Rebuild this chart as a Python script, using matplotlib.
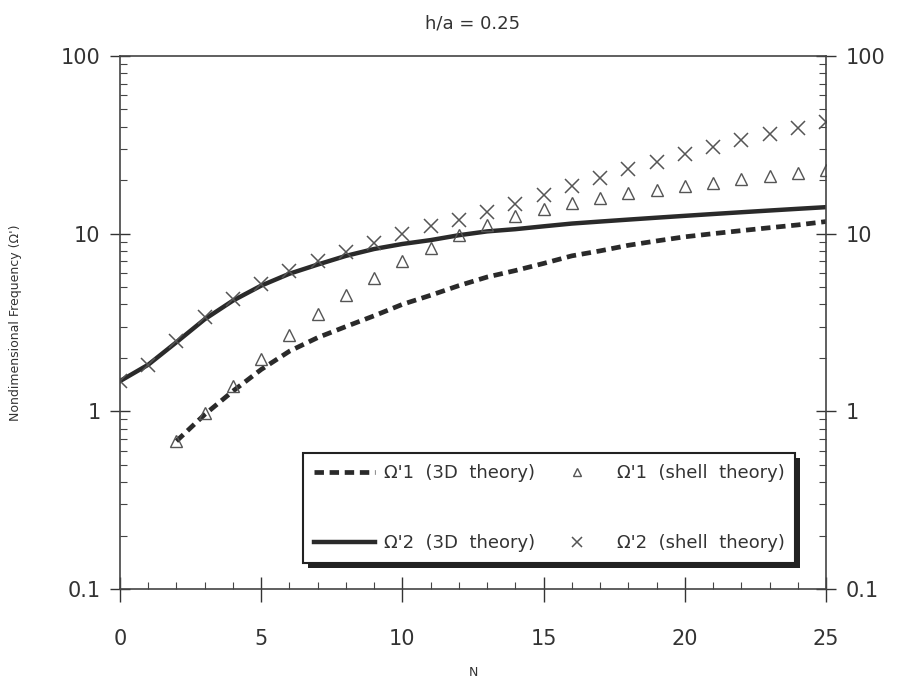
import matplotlib
matplotlib.use("Agg")
import matplotlib.pyplot as plt
import numpy as np
from matplotlib.patches import Rectangle
from matplotlib.ticker import FixedLocator, FixedFormatter, LogLocator, NullFormatter, MultipleLocator

# values
n_3d2 = list(range(0, 26))
omega2_3d = [1.48, 1.83, 2.45, 3.3, 4.2, 5.1, 5.95, 6.7, 7.5, 8.2, 8.75, 9.2, 9.8,
             10.3, 10.6, 11.0, 11.4, 11.7, 12.0, 12.3, 12.6, 12.9, 13.2, 13.5, 13.8, 14.1]
n_3d1 = list(range(2, 26))
omega1_3d = [0.68, 0.96, 1.3, 1.72, 2.18, 2.6, 3.0, 3.45, 4.0, 4.5, 5.1, 5.7, 6.2,
             6.8, 7.5, 8.0, 8.6, 9.1, 9.6, 10.0, 10.4, 10.8, 11.2, 11.7]
n_sh2 = list(range(0, 26))
omega2_shell = [1.48, 1.82, 2.5, 3.4, 4.3, 5.2, 6.2, 7.0, 7.9, 8.9, 9.9, 11.0, 12.0,
                13.3, 14.7, 16.6, 18.5, 20.6, 23.0, 25.3, 28.2, 30.9, 33.6, 36.5, 39.5, 42.5]
n_sh1 = list(range(2, 26))
omega1_shell = [0.68, 0.98, 1.38, 1.96, 2.68, 3.52, 4.5, 5.66, 7.0, 8.3, 9.8, 11.2,
                12.6, 13.7, 14.8, 15.9, 16.9, 17.7, 18.5, 19.4, 20.3, 21.1, 21.9, 22.8]

ytick_vals = [0.1, 1, 10, 100]
ytick_labels = ["0.1", "1", "10", "100"]
xtick_vals = [0, 5, 10, 15, 20, 25]

labels = ["\u03a9'1  (3D  theory)", "\u03a9'2  (3D  theory)",
          "\u03a9'1  (shell  theory)", "\u03a9'2  (shell  theory)"]

fig = plt.figure(figsize=(9.09, 6.87), dpi=100)
ax = fig.add_axes([120/909, 1 - 589/687, (826-120)/909, (589-56)/687])

l1, = ax.plot(n_3d1, omega1_3d, color="#2a2a2a", lw=3.4, ls=(0, (2.0, 1.2)))
l2, = ax.plot(n_3d2, omega2_3d, color="#2a2a2a", lw=3.2)
m1, = ax.plot(n_sh1, omega1_shell, ls="none", marker="^", ms=9, mfc="none",
              mec="#555555", mew=1.0)
m2, = ax.plot(n_sh2, omega2_shell, ls="none", marker="x", ms=10,
              mec="#555555", mew=1.1)

ax.set_yscale("log")
ax.set_xlim(0, 25)
ax.set_ylim(0.1, 100)

ax.yaxis.set_major_locator(FixedLocator(ytick_vals))
ax.yaxis.set_major_formatter(FixedFormatter(ytick_labels))
ax.yaxis.set_minor_locator(LogLocator(base=10, subs=np.arange(2, 10)))
ax.yaxis.set_minor_formatter(NullFormatter())
ax.xaxis.set_major_locator(FixedLocator(xtick_vals))
ax.xaxis.set_minor_locator(MultipleLocator(1))

for s in ax.spines.values():
    s.set_linewidth(1.2)
    s.set_color("#444444")

ax.tick_params(axis="y", which="major", direction="inout", length=14, width=1.0,
               left=True, right=True, labelleft=True, labelright=True,
               labelsize=15, pad=7, colors="#333333")
ax.tick_params(axis="y", which="minor", direction="in", length=5, width=0.8,
               left=True, right=True, colors="#444444")
ax.tick_params(axis="x", which="major", direction="inout", length=18, width=1.0,
               labelsize=15, pad=20, colors="#333333")
ax.tick_params(axis="x", which="minor", direction="in", length=5, width=0.8,
               colors="#444444")

ax.set_title("h/a = 0.25", fontsize=13, pad=20, color="#333333")
ax.set_xlabel("N", fontsize=9, labelpad=12, color="#333333")
ax.set_ylabel("Nondimensional Frequency (\u03a9')", fontsize=9, labelpad=28,
              color="#333333")

leg = ax.legend([l1, l2, m1, m2], labels, ncol=2, loc="upper left",
                bbox_to_anchor=(303/909, 1 - 453/687), bbox_transform=fig.transFigure,
                fancybox=False, frameon=True, edgecolor="#222222", framealpha=1,
                fontsize=13, labelspacing=2.9, handlelength=3.4, handletextpad=0.5,
                columnspacing=0.6, borderpad=0.6, borderaxespad=0, markerscale=0.7)
leg.get_frame().set_linewidth(1.5)
leg.set_zorder(6)
for t in leg.get_texts():
    t.set_color("#333333")

# heavy drop shadow on the legend box
fig.canvas.draw()
bb = leg.get_window_extent().transformed(fig.transFigure.inverted())
dx, dy = 5/909, 5/687
shadow = Rectangle((bb.x0 + dx, bb.y0 - dy), bb.width, bb.height,
                   transform=fig.transFigure, facecolor="#222222", edgecolor="none",
                   zorder=5.5, clip_on=False)
ax.add_patch(shadow)

fig.savefig("out.png", dpi=100, facecolor="white")
